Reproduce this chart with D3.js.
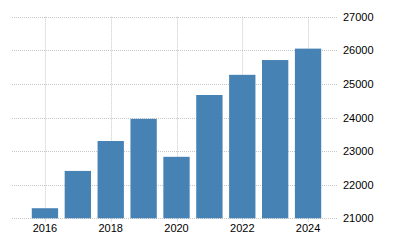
<!DOCTYPE html>
<html>
<head>
<meta charset="utf-8">
<script src="https://cdnjs.cloudflare.com/ajax/libs/d3/7.8.5/d3.min.js"></script>
<style>
  body { margin: 0; background: #fff; }
  svg text { font-family: 'Liberation Sans', Arial, sans-serif; font-size: 11px; fill: #000; }
</style>
</head>
<body>
<svg id="chart" width="400" height="250"></svg>
<script>
// data
var years = [2016, 2017, 2018, 2019, 2020, 2021, 2022, 2023, 2024];
var values = [21300, 22410, 23300, 23960, 22830, 24670, 25270, 25710, 26050];
var yTicks = [21000, 22000, 23000, 24000, 25000, 26000, 27000];
var xLabels = [2016, 2018, 2020, 2022, 2024];

var svg = d3.select("#chart");

var x = d3.scaleBand()
    .domain(years)
    .range([28.5, 324.5])
    .paddingInner(0.2)
    .paddingOuter(0.1);

var y = d3.scaleLinear()
    .domain([21000, 27000])
    .range([218.3, 16.7]);

var gridLeft = 12, gridRight = 337;

// horizontal grid
svg.append("g")
  .selectAll("line")
  .data(yTicks)
  .enter().append("line")
    .attr("x1", gridLeft)
    .attr("x2", gridRight)
    .attr("y1", function(d) { return Math.round(y(d)) + 0.5; })
    .attr("y2", function(d) { return Math.round(y(d)) + 0.5; })
    .attr("stroke", "#c8c8c8")
    .attr("stroke-dasharray", "1,1");

// vertical grid
svg.append("g")
  .selectAll("line")
  .data(xLabels)
  .enter().append("line")
    .attr("x1", function(d) { return Math.round(x(d) + x.bandwidth() / 2) + 0.5; })
    .attr("x2", function(d) { return Math.round(x(d) + x.bandwidth() / 2) + 0.5; })
    .attr("y1", y(27000))
    .attr("y2", 222)
    .attr("stroke", "#c8c8c8")
    .attr("stroke-dasharray", "1,1");

// bars
svg.append("g")
  .selectAll("rect")
  .data(years)
  .enter().append("rect")
    .attr("x", function(d) { return x(d); })
    .attr("width", x.bandwidth())
    .attr("y", function(d, i) { return y(values[i]); })
    .attr("height", function(d, i) { return y(21000) - y(values[i]); })
    .attr("fill", "#4682b4");

// y axis on the right
var yAxis = d3.axisRight(y)
    .tickValues(yTicks)
    .tickFormat(d3.format("d"))
    .tickSize(0)
    .tickPadding(0);

svg.append("g")
    .attr("transform", "translate(343,0)")
    .call(yAxis)
    .call(function(g) { g.select(".domain").remove(); });

// x axis
var xAxis = d3.axisBottom(x)
    .tickValues(xLabels)
    .tickSize(0)
    .tickPadding(0);

svg.append("g")
    .attr("transform", "translate(0,224)")
    .call(xAxis)
    .call(function(g) { g.select(".domain").remove(); });

svg.selectAll(".tick text").attr("font-family", null).attr("font-size", null);
</script>
</body>
</html>
